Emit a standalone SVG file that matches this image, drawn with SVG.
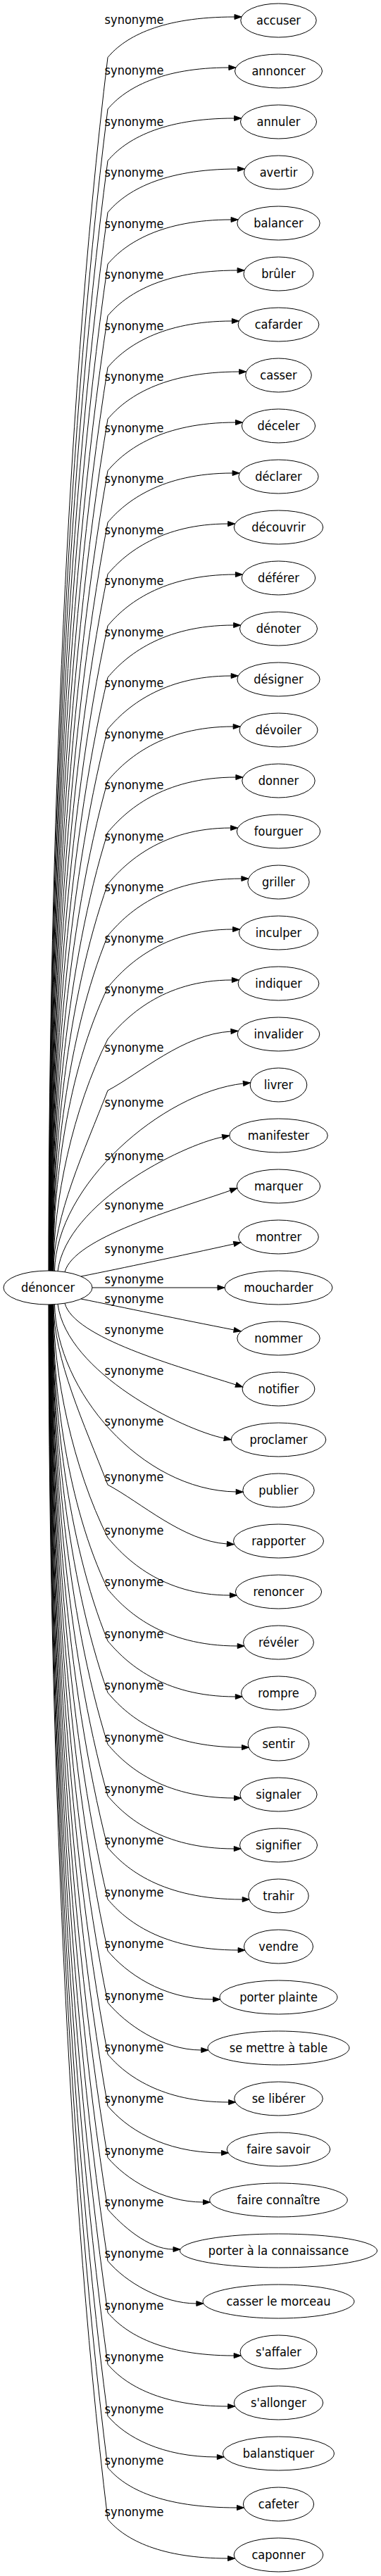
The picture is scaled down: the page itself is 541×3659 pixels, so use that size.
<svg xmlns="http://www.w3.org/2000/svg" width="541" height="3659" viewBox="0 0 541 3659">
<style>
text{font-family:"DejaVu Sans Condensed","DejaVu Sans",sans-serif;font-stretch:condensed;font-size:18px;fill:#000;text-anchor:middle}
.node ellipse{fill:none;stroke:#000;stroke-width:1}
.edge path{fill:none;stroke:#000;stroke-width:1;marker-end:url(#arr)}
</style>
<defs>
<marker id="arr" markerUnits="userSpaceOnUse" markerWidth="12" markerHeight="9" refX="0" refY="3.5" orient="auto" viewBox="-1 -1 12 9" overflow="visible">
<polygon points="0,0 10,3.5 0,7" fill="#000" stroke="#000" stroke-width="1"/>
</marker>
</defs>
<rect width="541" height="3659" fill="#fff"/>
<g id="connectors">
<g class="edge" id="e-accuser"><path d="M69,1805 C69,1287.4 90,599.2 153,81.6 C178,51.6 230,24 333,24"/><text x="190.5" y="33.7">synonyme</text></g>
<g class="edge" id="e-annoncer"><path d="M69.4,1805 C69.4,1309.4 90.3,650.6 153,155 C178,125 230,96 324.9,96"/><text x="190.5" y="106.2">synonyme</text></g>
<g class="edge" id="e-annuler"><path d="M69.7,1805 C69.7,1331.4 90.5,702 153,228.4 C178,198.4 230,168 332.7,168"/><text x="190.5" y="178.7">synonyme</text></g>
<g class="edge" id="e-avertir"><path d="M70.1,1805 C70.1,1353.4 90.8,753.4 153,301.8 C178,271.8 230,240 337.6,240"/><text x="190.5" y="251.2">synonyme</text></g>
<g class="edge" id="e-balancer"><path d="M70.4,1805 C70.4,1375.5 91,804.7 153,375.2 C178,345.2 230,312 328.1,312"/><text x="190.5" y="323.7">synonyme</text></g>
<g class="edge" id="e-bruler"><path d="M70.8,1805 C70.8,1397.5 91.3,856.1 153,448.6 C178,418.6 230,384 337.1,384"/><text x="190.5" y="396.2">synonyme</text></g>
<g class="edge" id="e-cafarder"><path d="M71.1,1805 C71.1,1419.5 91.6,907.4 153,521.9 C178,491.9 230,456 329.4,456"/><text x="190.5" y="468.6">synonyme</text></g>
<g class="edge" id="e-casser"><path d="M71.5,1805 C71.5,1441.5 91.8,958.8 153,595.3 C178,565.3 230,528 339.7,528"/><text x="190.5" y="541.1">synonyme</text></g>
<g class="edge" id="e-deceler"><path d="M71.8,1805 C71.8,1463.5 92.1,1010.2 153,668.7 C178,638.7 230,600 334.5,600"/><text x="190.5" y="613.6">synonyme</text></g>
<g class="edge" id="e-declarer"><path d="M72.2,1805 C72.2,1485.5 92.4,1061.6 153,742.1 C178,712.1 230,672 330.1,672"/><text x="190.5" y="686.1">synonyme</text></g>
<g class="edge" id="e-decouvrir"><path d="M72.5,1805 C72.5,1507.5 92.6,1113 153,815.5 C178,785.5 230,744 323.7,744"/><text x="190.5" y="758.6">synonyme</text></g>
<g class="edge" id="e-deferer"><path d="M72.9,1805 C72.9,1529.6 92.9,1164.3 153,888.9 C178,858.9 230,816 334.4,816"/><text x="190.5" y="831.1">synonyme</text></g>
<g class="edge" id="e-denoter"><path d="M73.2,1805 C73.2,1551.6 93.2,1215.7 153,962.3 C178,932.3 230,888 331.7,888"/><text x="190.5" y="903.6">synonyme</text></g>
<g class="edge" id="e-designer"><path d="M73.6,1805 C73.6,1573.6 93.4,1267.1 153,1035.7 C178,1005.7 230,960 328.2,960"/><text x="190.5" y="976.1">synonyme</text></g>
<g class="edge" id="e-devoiler"><path d="M73.9,1805 C73.9,1595.6 93.7,1318.5 153,1109.1 C178,1079.1 230,1032 331.2,1032"/><text x="190.5" y="1048.6">synonyme</text></g>
<g class="edge" id="e-donner"><path d="M74.3,1805 C74.3,1617.6 94,1369.8 153,1182.4 C178,1152.4 230,1104 334.9,1104"/><text x="190.5" y="1121">synonyme</text></g>
<g class="edge" id="e-fourguer"><path d="M74.6,1805 C74.6,1639.6 94.1,1421.2 153,1255.8 C178,1225.8 230,1176 327.6,1176"/><text x="190.5" y="1193.5">synonyme</text></g>
<g class="edge" id="e-griller"><path d="M75,1805 C75,1661.7 94.5,1472.5 153,1329.2 C178,1299.2 230,1248 342.9,1248"/><text x="190.5" y="1266">synonyme</text></g>
<g class="edge" id="e-inculper"><path d="M75.3,1805 C75.3,1683.7 94.8,1523.9 153,1402.6 C178,1372.6 230,1320 330.6,1320"/><text x="190.5" y="1338.5">synonyme</text></g>
<g class="edge" id="e-indiquer"><path d="M75.7,1805 C75.7,1705.7 103.3,1575.3 153,1476 C178,1446 230,1392 329.4,1392"/><text x="190.5" y="1411">synonyme</text></g>
<g class="edge" id="e-invalider"><path d="M76,1805.2 C76,1728 120,1634 153,1549 C200,1524 260,1469 328,1465"/><text x="190.5" y="1494">synonyme</text></g>
<g class="edge" id="e-livrer"><path d="M77.5,1805.3 C80,1683 230,1552 345.5,1539"/><text x="190.5" y="1572">synonyme</text></g>
<g class="edge" id="e-manifester"><path d="M82,1805.6 C95,1708 257.1,1627 315.9,1615"/><text x="190.5" y="1648">synonyme</text></g>
<g class="edge" id="e-marquer"><path d="M92,1806.8 C105,1758 250,1718 327.2,1691"/><text x="190.5" y="1718">synonyme</text></g>
<g class="edge" id="e-montrer"><path d="M115,1813 C175,1801 255,1784 332.1,1767"/><text x="190.5" y="1780">synonyme</text></g>
<g class="edge" id="e-moucharder"><path d="M131,1829 L309,1829"/><text x="190.5" y="1823">synonyme</text></g>
<g class="edge" id="e-nommer"><path d="M115,1845 C175,1857 255,1874 332.3,1889"/><text x="190.5" y="1851">synonyme</text></g>
<g class="edge" id="e-notifier"><path d="M92,1851.2 C105,1900 250,1940 335,1967"/><text x="190.5" y="1895">synonyme</text></g>
<g class="edge" id="e-proclamer"><path d="M82,1852.4 C95,1950 259.6,2031 318.4,2043"/><text x="190.5" y="1953">synonyme</text></g>
<g class="edge" id="e-publier"><path d="M77.5,1852.7 C80,1975 200,2117 335.2,2119"/><text x="190.5" y="2025">synonyme</text></g>
<g class="edge" id="e-rapporter"><path d="M76,1852.8 C76,1930 120,2024 153,2109 C200,2134 260,2189 322.4,2193"/><text x="190.5" y="2104">synonyme</text></g>
<g class="edge" id="e-renoncer"><path d="M75.7,1853 C75.7,1952.3 103.3,2084.7 153,2184 C178,2214 230,2266 326.4,2266"/><text x="190.5" y="2180">synonyme</text></g>
<g class="edge" id="e-reveler"><path d="M75.3,1853 C75.3,1974.3 94.8,2136.1 153,2257.4 C178,2287.4 230,2338 337.2,2338"/><text x="190.5" y="2253.4">synonyme</text></g>
<g class="edge" id="e-rompre"><path d="M75,1853 C75,1996.3 94.5,2187.5 153,2330.8 C178,2360.8 230,2410 334.3,2410"/><text x="190.5" y="2326.8">synonyme</text></g>
<g class="edge" id="e-sentir"><path d="M74.6,1853 C74.6,2018.4 94.1,2238.8 153,2404.2 C178,2434.2 230,2482 343.5,2482"/><text x="190.5" y="2400.2">synonyme</text></g>
<g class="edge" id="e-signaler"><path d="M74.3,1853 C74.3,2040.4 94,2290.2 153,2477.6 C178,2507.6 230,2554 332.6,2554"/><text x="190.5" y="2473.6">synonyme</text></g>
<g class="edge" id="e-signifier"><path d="M73.9,1853 C73.9,2062.4 93.7,2341.5 153,2550.9 C178,2580.9 230,2626 332.3,2626"/><text x="190.5" y="2546.9">synonyme</text></g>
<g class="edge" id="e-trahir"><path d="M73.6,1853 C73.6,2084.4 93.4,2392.9 153,2624.3 C178,2654.3 230,2698 344.2,2698"/><text x="190.5" y="2620.3">synonyme</text></g>
<g class="edge" id="e-vendre"><path d="M73.2,1853 C73.2,2106.4 93.2,2444.3 153,2697.7 C178,2727.7 230,2770 338.1,2770"/><text x="190.5" y="2693.7">synonyme</text></g>
<g class="edge" id="e-porter-plainte"><path d="M72.9,1853 C72.9,2128.4 92.9,2495.7 153,2771.1 C178,2801.1 230,2840 302.7,2840"/><text x="190.5" y="2767.1">synonyme</text></g>
<g class="edge" id="e-se-mettre-a-table"><path d="M72.5,1853 C72.5,2150.5 92.6,2547 153,2844.5 C178,2874.5 230,2912 285.8,2912"/><text x="190.5" y="2840.5">synonyme</text></g>
<g class="edge" id="e-se-liberer"><path d="M72.2,1853 C72.2,2172.5 92.4,2598.4 153,2917.9 C178,2947.9 230,2986 324.7,2986"/><text x="190.5" y="2913.9">synonyme</text></g>
<g class="edge" id="e-faire-savoir"><path d="M71.8,1853 C71.8,2194.5 92.1,2649.8 153,2991.3 C178,3021.3 230,3058 314.5,3058"/><text x="190.5" y="2987.3">synonyme</text></g>
<g class="edge" id="e-faire-connaitre"><path d="M71.5,1853 C71.5,2216.5 91.8,2701.2 153,3064.7 C178,3094.7 230,3128 288.5,3128"/><text x="190.5" y="3060.7">synonyme</text></g>
<g class="edge" id="e-porter-a-la-connaissance"><path d="M71.1,1853 C71.1,2238.5 91.6,2752.6 153,3138.1 C172,3160 210,3195 246,3195"/><text x="190.5" y="3134.1">synonyme</text></g>
<g class="edge" id="e-casser-le-morceau"><path d="M70.8,1853 C70.8,2260.5 91.3,2803.9 153,3211.4 C178,3241.4 230,3272 278.9,3272"/><text x="190.5" y="3207.4">synonyme</text></g>
<g class="edge" id="e-s-affaler"><path d="M70.4,1853 C70.4,2282.5 91,2855.3 153,3284.8 C178,3314.8 230,3346 332.2,3346"/><text x="190.5" y="3280.8">synonyme</text></g>
<g class="edge" id="e-s-allonger"><path d="M70.1,1853 C70.1,2304.6 90.8,2906.6 153,3358.2 C178,3388.2 230,3418 323.7,3418"/><text x="190.5" y="3354.2">synonyme</text></g>
<g class="edge" id="e-balanstiquer"><path d="M69.7,1853 C69.7,2326.6 90.5,2958 153,3431.6 C178,3461.6 230,3490 308.3,3490"/><text x="190.5" y="3427.6">synonyme</text></g>
<g class="edge" id="e-cafeter"><path d="M69.4,1853 C69.4,2348.6 90.3,3009.4 153,3505 C178,3535 230,3562 336.5,3562"/><text x="190.5" y="3501">synonyme</text></g>
<g class="edge" id="e-caponner"><path d="M69,1853 C69,2370.6 90,3060.8 153,3578.4 C178,3608.4 230,3634 323.6,3634"/><text x="190.5" y="3574.4">synonyme</text></g>
</g>
<g class="node" id="denoncer"><ellipse cx="68" cy="1829" rx="63" ry="24"/><text x="68" y="1834.5">dénoncer</text></g>
<g class="node" id="accuser"><ellipse cx="395.5" cy="29" rx="53.7" ry="24"/><text x="395.5" y="34.5">accuser</text></g>
<g class="node" id="annoncer"><ellipse cx="395.5" cy="101" rx="62" ry="24"/><text x="395.5" y="106.5">annoncer</text></g>
<g class="node" id="annuler"><ellipse cx="395.5" cy="173" rx="54" ry="24"/><text x="395.5" y="178.5">annuler</text></g>
<g class="node" id="avertir"><ellipse cx="395.5" cy="245" rx="49" ry="24"/><text x="395.5" y="250.5">avertir</text></g>
<g class="node" id="balancer"><ellipse cx="395.5" cy="317" rx="58.7" ry="24"/><text x="395.5" y="322.5">balancer</text></g>
<g class="node" id="bruler"><ellipse cx="395.5" cy="389" rx="49.5" ry="24"/><text x="395.5" y="394.5">brûler</text></g>
<g class="node" id="cafarder"><ellipse cx="395.5" cy="461" rx="57.4" ry="24"/><text x="395.5" y="466.5">cafarder</text></g>
<g class="node" id="casser"><ellipse cx="395.5" cy="533" rx="46.8" ry="24"/><text x="395.5" y="538.5">casser</text></g>
<g class="node" id="deceler"><ellipse cx="395.5" cy="605" rx="52.1" ry="24"/><text x="395.5" y="610.5">déceler</text></g>
<g class="node" id="declarer"><ellipse cx="395.5" cy="677" rx="56.6" ry="24"/><text x="395.5" y="682.5">déclarer</text></g>
<g class="node" id="decouvrir"><ellipse cx="395.5" cy="749" rx="63.2" ry="24"/><text x="395.5" y="754.5">découvrir</text></g>
<g class="node" id="deferer"><ellipse cx="395.5" cy="821" rx="52.2" ry="24"/><text x="395.5" y="826.5">déférer</text></g>
<g class="node" id="denoter"><ellipse cx="395.5" cy="893" rx="55" ry="24"/><text x="395.5" y="898.5">dénoter</text></g>
<g class="node" id="designer"><ellipse cx="395.5" cy="965" rx="58.6" ry="24"/><text x="395.5" y="970.5">désigner</text></g>
<g class="node" id="devoiler"><ellipse cx="395.5" cy="1037" rx="55.5" ry="24"/><text x="395.5" y="1042.5">dévoiler</text></g>
<g class="node" id="donner"><ellipse cx="395.5" cy="1109" rx="51.7" ry="24"/><text x="395.5" y="1114.5">donner</text></g>
<g class="node" id="fourguer"><ellipse cx="395.5" cy="1181" rx="59.2" ry="24"/><text x="395.5" y="1186.5">fourguer</text></g>
<g class="node" id="griller"><ellipse cx="395.5" cy="1253" rx="43.6" ry="24"/><text x="395.5" y="1258.5">griller</text></g>
<g class="node" id="inculper"><ellipse cx="395.5" cy="1325" rx="56.1" ry="24"/><text x="395.5" y="1330.5">inculper</text></g>
<g class="node" id="indiquer"><ellipse cx="395.5" cy="1397" rx="57.4" ry="24"/><text x="395.5" y="1402.5">indiquer</text></g>
<g class="node" id="invalider"><ellipse cx="395.5" cy="1469" rx="58.3" ry="24"/><text x="395.5" y="1474.5">invalider</text></g>
<g class="node" id="livrer"><ellipse cx="395.5" cy="1541" rx="40.3" ry="24"/><text x="395.5" y="1546.5">livrer</text></g>
<g class="node" id="manifester"><ellipse cx="395.5" cy="1613" rx="69.8" ry="24"/><text x="395.5" y="1618.5">manifester</text></g>
<g class="node" id="marquer"><ellipse cx="395.5" cy="1685" rx="59.2" ry="24"/><text x="395.5" y="1690.5">marquer</text></g>
<g class="node" id="montrer"><ellipse cx="395.5" cy="1757" rx="56.8" ry="24"/><text x="395.5" y="1762.5">montrer</text></g>
<g class="node" id="moucharder"><ellipse cx="395.5" cy="1829" rx="76.5" ry="24"/><text x="395.5" y="1834.5">moucharder</text></g>
<g class="node" id="nommer"><ellipse cx="395.5" cy="1901" rx="58.7" ry="24"/><text x="395.5" y="1906.5">nommer</text></g>
<g class="node" id="notifier"><ellipse cx="395.5" cy="1973" rx="51.4" ry="24"/><text x="395.5" y="1978.5">notifier</text></g>
<g class="node" id="proclamer"><ellipse cx="395.5" cy="2045" rx="67.3" ry="24"/><text x="395.5" y="2050.5">proclamer</text></g>
<g class="node" id="publier"><ellipse cx="395.5" cy="2117" rx="50.7" ry="24"/><text x="395.5" y="2122.5">publier</text></g>
<g class="node" id="rapporter"><ellipse cx="395.5" cy="2189" rx="64" ry="24"/><text x="395.5" y="2194.5">rapporter</text></g>
<g class="node" id="renoncer"><ellipse cx="395.5" cy="2261" rx="61.1" ry="24"/><text x="395.5" y="2266.5">renoncer</text></g>
<g class="node" id="reveler"><ellipse cx="395.5" cy="2333" rx="49.9" ry="24"/><text x="395.5" y="2338.5">révéler</text></g>
<g class="node" id="rompre"><ellipse cx="395.5" cy="2405" rx="52.9" ry="24"/><text x="395.5" y="2410.5">rompre</text></g>
<g class="node" id="sentir"><ellipse cx="395.5" cy="2477" rx="43.4" ry="24"/><text x="395.5" y="2482.5">sentir</text></g>
<g class="node" id="signaler"><ellipse cx="395.5" cy="2549" rx="54.6" ry="24"/><text x="395.5" y="2554.5">signaler</text></g>
<g class="node" id="signifier"><ellipse cx="395.5" cy="2621" rx="55" ry="24"/><text x="395.5" y="2626.5">signifier</text></g>
<g class="node" id="trahir"><ellipse cx="395.5" cy="2693" rx="42.7" ry="24"/><text x="395.5" y="2698.5">trahir</text></g>
<g class="node" id="vendre"><ellipse cx="395.5" cy="2765" rx="49" ry="24"/><text x="395.5" y="2770.5">vendre</text></g>
<g class="node" id="porter-plainte"><ellipse cx="395.5" cy="2837" rx="83.5" ry="24"/><text x="395.5" y="2842.5">porter plainte</text></g>
<g class="node" id="se-mettre-a-table"><ellipse cx="395.5" cy="2909" rx="100.5" ry="24"/><text x="395.5" y="2914.5">se mettre à table</text></g>
<g class="node" id="se-liberer"><ellipse cx="395.5" cy="2981" rx="62.8" ry="24"/><text x="395.5" y="2986.5">se libérer</text></g>
<g class="node" id="faire-savoir"><ellipse cx="395.5" cy="3053" rx="73.3" ry="24"/><text x="395.5" y="3058.5">faire savoir</text></g>
<g class="node" id="faire-connaitre"><ellipse cx="395.5" cy="3125" rx="97.8" ry="24"/><text x="395.5" y="3130.5">faire connaître</text></g>
<g class="node" id="porter-a-la-connaissance"><ellipse cx="395.5" cy="3197" rx="140" ry="24"/><text x="395.5" y="3202.5">porter à la connaissance</text></g>
<g class="node" id="casser-le-morceau"><ellipse cx="395.5" cy="3269" rx="107.5" ry="24"/><text x="395.5" y="3274.5">casser le morceau</text></g>
<g class="node" id="s-affaler"><ellipse cx="395.5" cy="3341" rx="54.5" ry="24"/><text x="395.5" y="3346.5">s'affaler</text></g>
<g class="node" id="s-allonger"><ellipse cx="395.5" cy="3413" rx="63.2" ry="24"/><text x="395.5" y="3418.5">s'allonger</text></g>
<g class="node" id="balanstiquer"><ellipse cx="395.5" cy="3485" rx="78.9" ry="24"/><text x="395.5" y="3490.5">balanstiquer</text></g>
<g class="node" id="cafeter"><ellipse cx="395.5" cy="3557" rx="50.1" ry="24"/><text x="395.5" y="3562.5">cafeter</text></g>
<g class="node" id="caponner"><ellipse cx="395.5" cy="3629" rx="63.3" ry="24"/><text x="395.5" y="3634.5">caponner</text></g>
</svg>
